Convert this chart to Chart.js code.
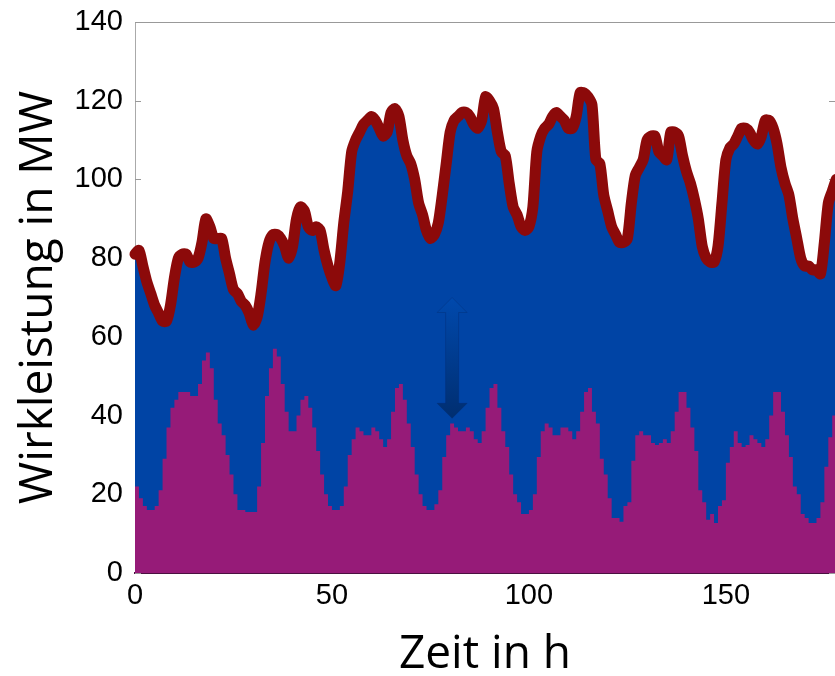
<!DOCTYPE html>
<html>
<head>
  <title>Wirkleistung</title>
  <script src="https://cdn.jsdelivr.net/npm/chart.js@4.4.0/dist/chart.umd.min.js"></script>
  <style>
    html, body { margin: 0; padding: 0; background: #fff; overflow: hidden; }
  </style>
</head>
<body>
  <canvas id="leistung" width="835" height="676"></canvas>

  <script>
    // Gesamtleistung je Stunde (h = 0 .. 178), in MW
    const gesamt = [
      81, 82, 78, 74, 71, 68, 66, 64, 64, 68,
      75, 80, 81, 81, 79, 79, 80, 84, 90, 88,
      85, 85, 85, 80, 76, 72, 71, 69, 68, 66,
      63, 65, 71, 79, 84, 86, 86, 85, 83, 80,
      83, 90, 93, 92, 88, 87, 88, 87, 82, 78,
      75, 73, 79, 89, 97, 107, 110, 112, 114, 115,
      116, 115, 113, 111, 112, 117, 118, 116, 110, 106,
      104, 100, 94, 91, 87, 85, 86, 89, 96, 104,
      112, 115, 116, 117, 117, 116, 114, 113, 115, 121,
      120, 118, 112, 107, 106, 99, 93, 91, 88, 87,
      88, 93, 107, 111, 113, 114, 116, 117, 116, 115,
      113, 113, 116, 122, 122, 121, 119, 105, 104, 96,
      92, 88, 86, 84, 84, 85, 94, 101, 103, 105,
      110, 111, 111, 107, 106, 105, 112, 112, 111, 106,
      102, 99, 95, 90, 83, 80, 79, 79, 83, 94,
      105, 108, 109, 111, 113, 113, 112, 110, 109, 111,
      115, 115, 113, 109, 103, 99, 96, 90, 85, 80,
      78, 78, 77, 77, 76, 84, 94, 97, 100
    ];

    // Anteil (Stundenwerte, h = 0 .. 177), in MW
    const anteil = [
      22, 19, 17, 16, 16, 17, 21, 29, 37, 42,
      44, 46, 46, 46, 45, 45, 48, 54, 56, 52,
      44, 38, 35, 30, 25, 20, 16, 16, 15.5, 15.5,
      15.5, 22, 33, 45, 52, 57, 55, 48, 41, 36,
      36, 40, 44, 45, 42, 37, 31, 25, 20, 17,
      16, 16, 17, 22, 30, 34, 37, 36, 35, 35,
      37, 36, 34, 32, 34, 41, 47, 48, 44, 38,
      32, 25, 20, 17, 16, 16, 17.5, 21, 29.5, 35,
      38, 37, 36, 36, 37, 36, 34, 33, 36, 42,
      47, 48, 42, 36, 32, 25, 20, 18, 15, 15,
      16, 20, 29.5, 36, 38, 37, 35, 35, 37, 37,
      36, 34, 36, 41, 46, 47, 41, 38, 29, 25,
      19, 14, 14, 13, 17, 18, 28.5, 35, 36, 35,
      35, 33, 32.5, 33, 34, 33, 36, 41, 46, 46,
      42, 37, 31, 21, 18, 13.5, 15, 12.7, 17, 18.5,
      28, 32, 36, 33, 32, 32.5, 35, 34, 33, 32,
      34, 40, 46, 46, 41, 35, 29.5, 22, 20, 15,
      14, 12.7, 12.7, 14, 18, 27, 34.5, 40
    ];

    const xTicks = [0, 50, 100, 150];
    const yTicks = [0, 20, 40, 60, 80, 100, 120, 140];

    const gesamtPts = gesamt.map((v, h) => ({ x: h, y: v }));
    // Treppe: jeder Stundenwert gilt von h bis h+1
    const anteilPts = anteil.map((v, h) => ({ x: h, y: v }));
    anteilPts.push({ x: anteil.length, y: anteil[anteil.length - 1] });

    // Rahmen oben + Ticks nach innen (liegen unter den Flaechen)
    const rahmen = {
      id: 'rahmen',
      beforeDatasetsDraw(chart) {
        const { ctx, chartArea: a, scales: { y } } = chart;
        ctx.save();
        ctx.strokeStyle = '#999';
        ctx.lineWidth = 1;
        ctx.beginPath();
        ctx.moveTo(a.left, a.top + 0.5);
        ctx.lineTo(a.right, a.top + 0.5);
        yTicks.forEach(v => {
          const py = Math.round(y.getPixelForValue(v)) + 0.5;
          ctx.moveTo(a.left, py);
          ctx.lineTo(a.left + 6, py);
          ctx.moveTo(a.right - 6, py);
          ctx.lineTo(a.right, py);
        });
        ctx.stroke();
        ctx.restore();
      }
    };

    // Doppelpfeil in der Mitte
    const pfeil = {
      id: 'pfeil',
      afterDatasetsDraw(chart) {
        const { ctx, scales: { x, y } } = chart;
        const cx = x.getPixelForValue(80.5);
        const top = y.getPixelForValue(70);
        const bot = y.getPixelForValue(39.3);
        const head = 15, half = 15, shaft = 6.5;
        const g = ctx.createLinearGradient(0, top, 0, bot);
        g.addColorStop(0, '#0049ad');
        g.addColorStop(1, '#002e70');
        ctx.save();
        ctx.beginPath();
        ctx.moveTo(cx, top);
        ctx.lineTo(cx + half, top + head);
        ctx.lineTo(cx + shaft, top + head);
        ctx.lineTo(cx + shaft, bot - head);
        ctx.lineTo(cx + half, bot - head);
        ctx.lineTo(cx, bot);
        ctx.lineTo(cx - half, bot - head);
        ctx.lineTo(cx - shaft, bot - head);
        ctx.lineTo(cx - shaft, top + head);
        ctx.lineTo(cx - half, top + head);
        ctx.closePath();
        ctx.fillStyle = g;
        ctx.fill();
        ctx.strokeStyle = 'rgba(0, 40, 110, 0.35)';
        ctx.lineWidth = 1;
        ctx.stroke();
        ctx.restore();
      }
    };

    const tickFont = { family: 'Liberation Sans', size: 29 };
    const titleFont = { family: 'Open Sans', size: 46, lineHeight: 1 };

    new Chart(document.getElementById('leistung'), {
      type: 'line',
      data: {
        datasets: [
          {
            label: 'Gesamt',
            data: gesamtPts,
            borderColor: '#8c0a0a',
            borderWidth: 11,
            borderCapStyle: 'round',
            borderJoinStyle: 'round',
            tension: 0.25,
            pointRadius: 0,
            fill: false,
            clip: 8,
            order: 0
          },
          {
            label: 'Anteil',
            data: anteilPts,
            stepped: 'before',
            borderWidth: 0,
            backgroundColor: '#961b78',
            pointRadius: 0,
            fill: 'origin',
            order: 1
          },
          {
            label: 'Flaeche',
            data: gesamtPts,
            borderWidth: 0,
            backgroundColor: '#0044a5',
            tension: 0.25,
            pointRadius: 0,
            fill: 'origin',
            order: 2
          }
        ]
      },
      options: {
        responsive: false,
        animation: false,
        layout: { padding: { top: 22, right: 0, left: 0, bottom: 0 } },
        plugins: {
          legend: { display: false },
          tooltip: { enabled: false }
        },
        scales: {
          x: {
            type: 'linear',
            min: 0,
            max: 177.7,
            afterBuildTicks: s => { s.ticks = xTicks.map(v => ({ value: v })); },
            afterFit: s => { s.height = 103; s.paddingRight = 0; },
            grid: { drawOnChartArea: false, drawTicks: false },
            border: { color: '#4a1040', width: 2 },
            ticks: { font: tickFont, color: '#000', padding: 6, maxRotation: 0 },
            title: {
              display: true,
              text: 'Zeit in h',
              font: titleFont,
              color: '#000',
              padding: { top: 0, bottom: -2 }
            }
          },
          y: {
            min: 0,
            max: 140,
            afterBuildTicks: s => { s.ticks = yTicks.map(v => ({ value: v })); },
            afterFit: s => { s.width = 135; s.paddingTop = 0; s.paddingBottom = 0; },
            grid: { drawOnChartArea: false, drawTicks: false },
            border: { color: '#aaaaaa', width: 1 },
            ticks: { font: tickFont, color: '#000', padding: 12 },
            title: {
              display: true,
              text: 'Wirkleistung in MW',
              font: titleFont,
              color: '#000',
              padding: { top: 16, bottom: 0 }
            }
          }
        }
      },
      plugins: [rahmen, pfeil]
    });
  </script>
</body>
</html>
